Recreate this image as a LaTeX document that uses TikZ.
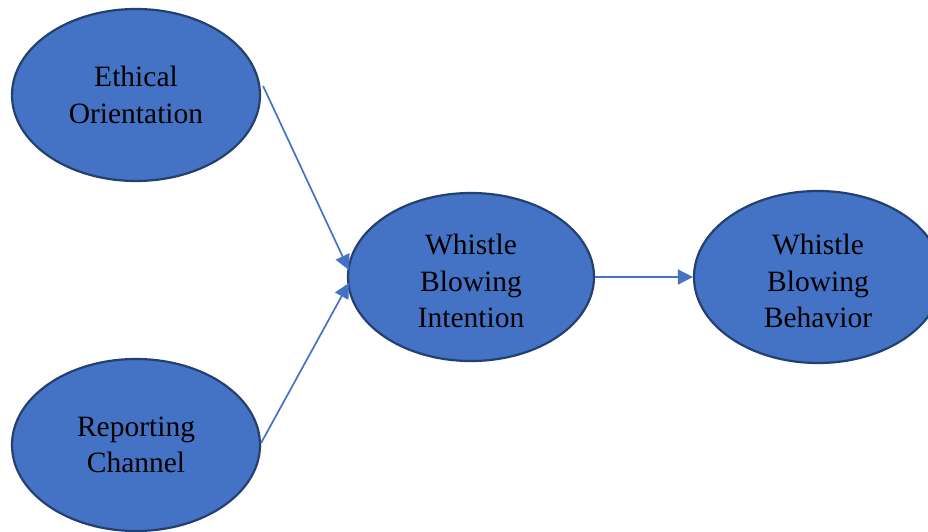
\documentclass[tikz,border=0pt]{standalone}
\usepackage{fontspec}
\setmainfont{Liberation Serif}
\usetikzlibrary{shapes.geometric,arrows.meta}
\definecolor{fillblue}{HTML}{4472C4}
\definecolor{edgeblue}{HTML}{23406F}
\newcommand{\topgap}{\rule{0pt}{29pt}}
\begin{document}
\begin{tikzpicture}[x=1pt,y=-1pt,
  oval/.style={ellipse, draw=edgeblue, line width=2.2pt, fill=fillblue,
    minimum width=248pt, minimum height=172pt, inner sep=0pt, align=center,
    font=\fontsize{29.5}{36.5}\selectfont},
  link/.style={draw=fillblue, line width=1.7pt, -{Triangle[length=15pt,width=15pt]}}]
\useasboundingbox (0,0) rectangle (928,532);
\clip (0,0) rectangle (928,532);
\node[oval] (eo) at (136,95) {Ethical\\Orientation};
\node[oval] (rc) at (136,445) {Reporting\\Channel};
\node[oval, minimum width=246pt, minimum height=168pt] (wbi) at (471,277) {\topgap Whistle\\Blowing\\Intention};
\node[oval] (wbb) at (818,277) {\topgap Whistle\\Blowing\\Behavior};
\draw[link] ([shift={(2,-9)}]eo.east) -- ([shift={(2,-7)}]wbi.west);
\draw[link] ([shift={(0,-2)}]rc.east) -- ([shift={(2,6)}]wbi.west);
\draw[link] (wbi.east) -- (wbb.west);
\end{tikzpicture}
\end{document}
